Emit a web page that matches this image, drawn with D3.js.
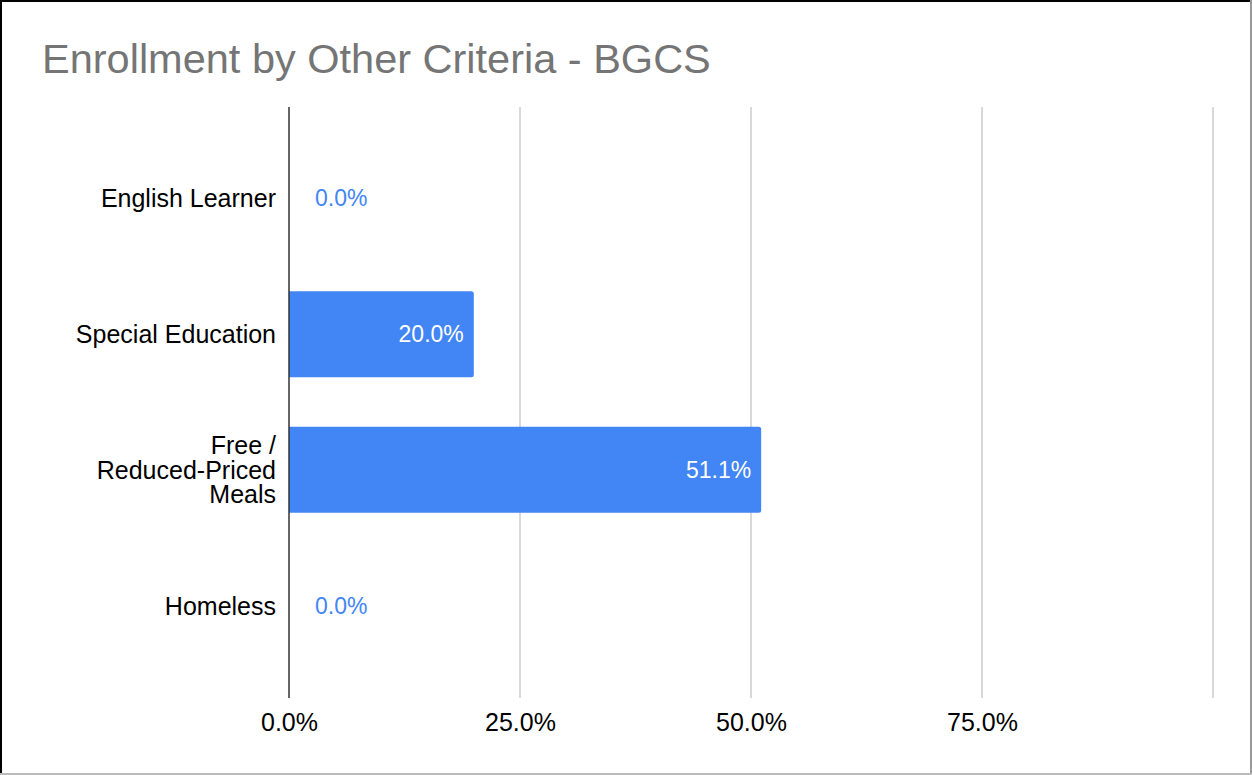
<!DOCTYPE html>
<html>
<head>
<meta charset="utf-8">
<script src="https://cdn.jsdelivr.net/npm/d3@7"></script>
<style>
html,body{margin:0;padding:0;background:#fff;}
svg{display:block;}
text{font-family:"Liberation Sans",Arial,Helvetica,sans-serif;}
</style>
</head>
<body>
<svg id="chart" width="1252" height="775"></svg>
<script>
const title = "Enrollment by Other Criteria - BGCS";
const categories = ["English Learner", "Special Education", "Free / Reduced-Priced Meals", "Homeless"];
const categoryLines = [["English Learner"], ["Special Education"], ["Free /", "Reduced-Priced", "Meals"], ["Homeless"]];
const values = [0.0, 0.20, 0.511, 0.0];
const xTicks = [0, 0.25, 0.5, 0.75, 1.0];
const xTickLabels = ["0.0%", "25.0%", "50.0%", "75.0%", ""];

const W = 1252, H = 775;
const svg = d3.select("#chart");
const blue = "#4285f4";

// frame
svg.append("rect").attr("x",0).attr("y",0).attr("width",W).attr("height",H).attr("fill","#fff");
svg.append("line").attr("x1",1).attr("y1",0).attr("x2",1).attr("y2",H).attr("stroke","#000").attr("stroke-width",2);
svg.append("line").attr("x1",0).attr("y1",1).attr("x2",W).attr("y2",1).attr("stroke","#000").attr("stroke-width",2);
svg.append("line").attr("x1",W-1).attr("y1",0).attr("x2",W-1).attr("y2",H).attr("stroke","#999").attr("stroke-width",2);
svg.append("line").attr("x1",0).attr("y1",H-1).attr("x2",W).attr("y2",H-1).attr("stroke","#bbb").attr("stroke-width",2);

// title
svg.append("text").attr("x",42).attr("y",73).attr("font-size",41.5).attr("fill","#757575").text(title);

const x = d3.scaleLinear().domain([0,1]).range([289,1213]);
const y = d3.scaleBand().domain(categories).range([107,697]).paddingInner(0.366).paddingOuter(0.357);

// gridlines
const grid = svg.append("g");
grid.selectAll("line").data(xTicks.slice(1)).join("line")
  .attr("x1",d=>x(d)).attr("x2",d=>x(d)).attr("y1",107).attr("y2",698)
  .attr("stroke","#cccccc").attr("stroke-width",1.5);

// x axis labels
const xAxis = d3.axisBottom(x).tickValues(xTicks).tickSize(0).tickPadding(0).tickFormat((d,i)=>xTickLabels[i]);
const gx = svg.append("g").attr("transform","translate(0,731)").call(xAxis);
gx.select(".domain").remove();
gx.selectAll("text").attr("font-size",25).attr("fill","#000").attr("font-family",'"Liberation Sans",Arial,sans-serif').attr("dy",null).attr("y",0);

// bars
svg.append("g").selectAll("path").data(values).join("path")
  .attr("fill",blue)
  .attr("d",(d,i)=>{
    const x0 = x(0), x1 = x(d), y0 = y(categories[i]), h = y.bandwidth();
    if (x1 - x0 <= 0) return "";
    const r = 2.5;
    return `M${x0},${y0}H${x1-r}Q${x1},${y0} ${x1},${y0+r}V${y0+h-r}Q${x1},${y0+h} ${x1-r},${y0+h}H${x0}Z`;
  });

// zero axis line
svg.append("line").attr("x1",x(0)).attr("x2",x(0)).attr("y1",107).attr("y2",698).attr("stroke","#333").attr("stroke-width",1.5);

// data labels
svg.append("g").selectAll("text").data(values).join("text")
  .attr("font-size",23)
  .attr("font-family","Roboto, 'Liberation Sans', Arial, sans-serif")
  .attr("y",(d,i)=>y(categories[i])+y.bandwidth()/2 + 8)
  .attr("x",d=> d>0.05 ? x(d)-10 : x(0)+26)
  .attr("text-anchor",d=> d>0.05 ? "end" : "start")
  .attr("fill",d=> d>0.05 ? "#fff" : blue)
  .text(d=>d3.format(".1%")(d));

// category labels
const cl = svg.append("g");
categoryLines.forEach((lines,i)=>{
  const cy = y(categories[i]) + y.bandwidth()/2;
  const lh = 24.5;
  const t = cl.append("text").attr("text-anchor","end").attr("font-size",25).attr("fill","#000");
  lines.forEach((ln,j)=>{
    t.append("tspan").attr("x",276).attr("y", cy + (j - (lines.length-1)/2)*lh + 9).text(ln);
  });
});
</script>
</body>
</html>
